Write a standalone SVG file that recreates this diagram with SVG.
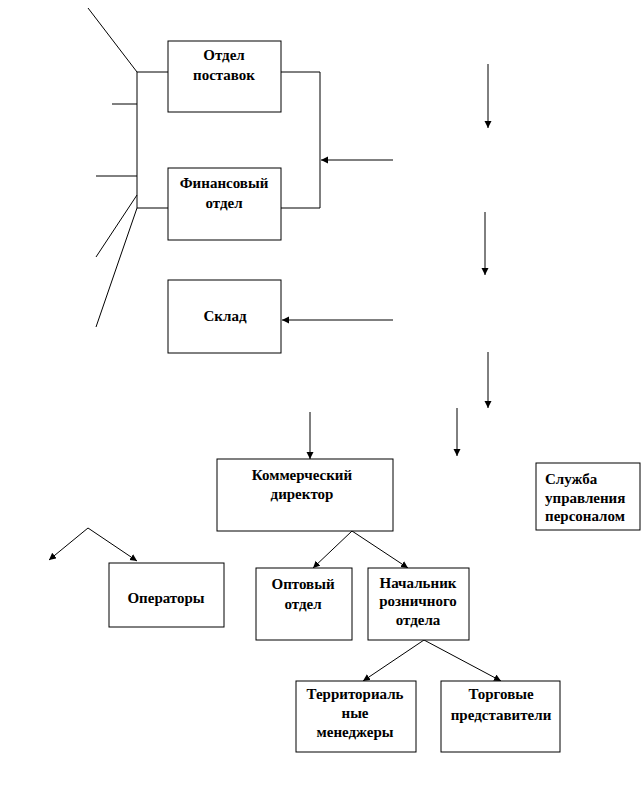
<svg xmlns="http://www.w3.org/2000/svg" width="643" height="800" viewBox="0 0 643 800">
<style>
.box{fill:#fff;stroke:#000;stroke-width:1}
.ln{fill:none;stroke:#000;stroke-width:1}
.ar{fill:none;stroke:#000;stroke-width:1;marker-end:url(#ah)}
text{font-family:"Liberation Serif","Times New Roman",serif;font-weight:bold;font-size:15px;fill:#000;text-anchor:middle}
.l{text-anchor:start}
</style>
<defs>
<marker id="ah" markerWidth="8" markerHeight="8" refX="7" refY="3.5" orient="auto" markerUnits="userSpaceOnUse">
<path d="M0,0 L7,3.5 L0,7 Z" fill="#000"/>
</marker>
</defs>
<rect width="643" height="800" fill="#fff"/>
<g id="connectors">
<line class="ln" x1="88" y1="8" x2="137" y2="72"/>
<line class="ln" x1="137" y1="72" x2="137" y2="208"/>
<line class="ln" x1="137" y1="72" x2="168" y2="72"/>
<line class="ln" x1="137" y1="208" x2="168" y2="208"/>
<line class="ln" x1="112" y1="104" x2="137" y2="104"/>
<line class="ln" x1="96" y1="176" x2="137" y2="176"/>
<line class="ln" x1="137" y1="195" x2="96" y2="257"/>
<line class="ln" x1="137" y1="208" x2="96" y2="327"/>
<polyline class="ln" points="281,72 320,72 320,208 281,208"/>
<line class="ar" x1="393" y1="160" x2="321" y2="160"/>
<line class="ar" x1="393" y1="320" x2="282" y2="320"/>
<line class="ar" x1="488" y1="64" x2="488" y2="128"/>
<line class="ar" x1="485" y1="212" x2="485" y2="275"/>
<line class="ar" x1="488" y1="352" x2="488" y2="408"/>
<line class="ar" x1="457" y1="408" x2="457" y2="456"/>
<line class="ar" x1="310" y1="412" x2="310" y2="459"/>
<line class="ar" x1="88" y1="528" x2="49" y2="560"/>
<line class="ar" x1="88" y1="528" x2="137" y2="561"/>
<line class="ar" x1="352" y1="531" x2="313" y2="568"/>
<line class="ar" x1="352" y1="531" x2="408" y2="568"/>
<line class="ar" x1="424" y1="640" x2="363" y2="681"/>
<line class="ar" x1="424" y1="640" x2="501" y2="681"/>
</g>
<g id="otdel-postavok">
<rect class="box" x="168" y="41" width="113" height="71"/>
<text x="224" y="60">Отдел</text>
<text x="224" y="80">поставок</text>
</g>
<g id="finansovy-otdel">
<rect class="box" x="168" y="168" width="113" height="72"/>
<text x="224" y="188">Финансовый</text>
<text x="224" y="208">отдел</text>
</g>
<g id="sklad">
<rect class="box" x="168" y="280" width="113" height="73"/>
<text x="225" y="321">Склад</text>
</g>
<g id="kommerchesky-direktor">
<rect class="box" x="217" y="459" width="176" height="72"/>
<text x="302" y="480">Коммерческий</text>
<text x="302" y="499">директор</text>
</g>
<g id="sluzhba">
<rect class="box" x="536" y="463" width="104" height="67"/>
<text class="l" x="545" y="484">Служба</text>
<text class="l" x="545" y="503">управления</text>
<text class="l" x="545" y="521">персоналом</text>
</g>
<g id="operatory">
<rect class="box" x="109" y="563" width="115" height="64"/>
<text x="166" y="603">Операторы</text>
</g>
<g id="optovy-otdel">
<rect class="box" x="256" y="568" width="96" height="72"/>
<text x="303" y="589">Оптовый</text>
<text x="303" y="609">отдел</text>
</g>
<g id="nachalnik">
<rect class="box" x="368" y="568" width="101" height="72"/>
<text x="418" y="588">Начальник</text>
<text x="418" y="606">розничного</text>
<text x="418" y="625">отдела</text>
</g>
<g id="territorialnye">
<rect class="box" x="296" y="681" width="120" height="71"/>
<text x="355" y="699">Территориаль</text>
<text x="355" y="718">ные</text>
<text x="355" y="737">менеджеры</text>
</g>
<g id="torgovye">
<rect class="box" x="441" y="681" width="119" height="71"/>
<text x="501" y="699">Торговые</text>
<text x="501" y="720">представители</text>
</g>
</svg>
